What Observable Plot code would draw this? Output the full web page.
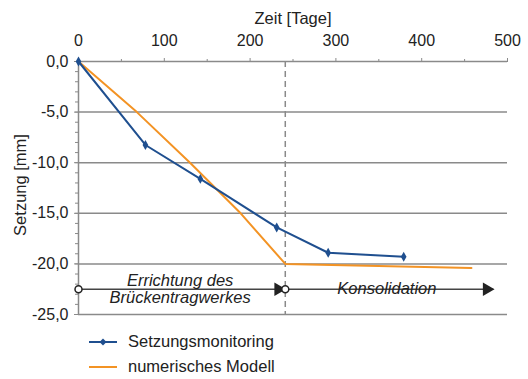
<!DOCTYPE html>
<html><head><meta charset="utf-8">
<script src="https://cdn.jsdelivr.net/npm/d3@7"></script>
<script src="https://cdn.jsdelivr.net/npm/@observablehq/plot@0.6"></script>
<style>
body{margin:0;background:#fff;font-family:"Liberation Sans",Arial,sans-serif;}
#wrap{position:relative;width:528px;height:379px;overflow:hidden;}
#legend{position:absolute;left:88px;top:329px;font-size:16.5px;color:#222;}
.row{display:flex;align-items:center;height:25px;}
.row svg{margin-right:10px;}
</style></head>
<body><div id="wrap"><div id="chart"></div>
<div id="legend">
<div class="row"><svg width="30" height="10"><line x1="1" y1="5" x2="29" y2="5" stroke="#1f4f8f" stroke-width="2"/><path d="M15,1.5 L18.5,5 L15,8.5 L11.5,5Z" fill="#1f4f8f"/></svg>Setzungsmonitoring</div>
<div class="row"><svg width="30" height="10"><line x1="1" y1="5" x2="29" y2="5" stroke="#f39324" stroke-width="2"/></svg>numerisches Modell</div>
</div></div>
<script>
const days = [0, 78, 142, 231, 291, 379];
const settlement = [0, -8.25, -11.6, -16.4, -18.9, -19.3];
const modelDays = [0, 68, 130, 189, 241, 458];
const modelSettlement = [0, -5, -10, -15, -20, -20.4];
const xTicks = [0, 100, 200, 300, 400, 500];
const xMinor = [50, 150, 250, 350, 450];
const yTicks = [0, -5, -10, -15, -20, -25];
const yMinor = d3.range(-25, 1);
const xTitle = "Zeit [Tage]";
const yTitle = "Setzung [mm]";
const phaseBoundary = 241;
const phaseStart = [0, 241];
const phaseEnd = [241, 484];
const phaseY = -22.5;
const phaseNames = ["Errichtung des\nBrückentragwerkes", "Konsolidation"];
const phaseLabelX = [119, 360];
const phaseLabelDy = [0, -8];

const monitor = days.map((d, i) => ({x: d, y: settlement[i]}));
const model = modelDays.map((d, i) => ({x: d, y: modelSettlement[i]}));
const phases = phaseStart.map((s, i) => ({s, e: phaseEnd[i], name: phaseNames[i], lx: phaseLabelX[i], dy: phaseLabelDy[i]}));
const fmt = d => d.toFixed(1).replace(".", ",");
const grey = "#8a8a8a";

const chart = Plot.plot({
  width: 528, height: 322,
  marginLeft: 78, marginRight: 21, marginTop: 61, marginBottom: 8,
  style: {fontFamily: "'Liberation Sans', Arial, sans-serif", fontSize: "16px", color: "#222", background: "transparent"},
  x: {domain: [0, 500]},
  y: {domain: [-25, 0]},
  marks: [
    Plot.ruleY(yTicks, {stroke: grey, strokeWidth: 1.5}),
    Plot.ruleX([0], {y1: 0, y2: -25, stroke: grey, strokeWidth: 1.5}),
    Plot.ruleX([phaseBoundary], {y1: 0, y2: -25, stroke: grey, strokeWidth: 1.5, strokeDasharray: "6,4"}),
    Plot.axisX({anchor: "top", ticks: xMinor, tickFormat: () => "", tickSize: 3, stroke: grey, label: null}),
    Plot.axisX({anchor: "top", ticks: xTicks, tickSize: 4, tickPadding: 12, stroke: grey, fill: "#222", fontSize: 16, label: null}),
    Plot.axisY({anchor: "left", ticks: yMinor, tickFormat: () => "", tickSize: 3, stroke: grey, label: null}),
    Plot.axisY({anchor: "left", ticks: yTicks, tickFormat: fmt, tickSize: 4, tickPadding: 6, stroke: grey, fill: "#222", fontSize: 16, label: null}),
    Plot.text([xTitle], {frameAnchor: "top", dy: -49, fontSize: 16.5, fill: "#222"}),
    Plot.text([yTitle], {frameAnchor: "left", textAnchor: "middle", dx: -58, dy: -3, rotate: -90, fontSize: 16.5, fill: "#222"}),
    Plot.line(model, {x: "x", y: "y", stroke: "#f39324", strokeWidth: 2}),
    Plot.line(monitor, {x: "x", y: "y", stroke: "#1f4f8f", strokeWidth: 2}),
    Plot.dot(monitor, {x: "x", y: "y", symbol: "diamond", r: 3, fill: "#1f4f8f"}),
    Plot.ruleY(phases, {x1: "s", x2: "e", y: phaseY, stroke: "#444", strokeWidth: 1.5}),
    Plot.dot(phases, {x: "e", y: phaseY, symbol: "triangle", rotate: 90, r: 5, fill: "#222", dx: -7}),
    Plot.dot(phases, {x: "s", y: phaseY, r: 3.5, fill: "white", stroke: "#222", strokeWidth: 1.5}),
    Plot.text(phases, {x: "lx", y: phaseY, text: "name", dy: "dy", fontStyle: "italic", fontSize: 16.5, fill: "#222", lineHeight: 1.05})
  ]
});
document.getElementById("chart").append(chart);
</script></body></html>
